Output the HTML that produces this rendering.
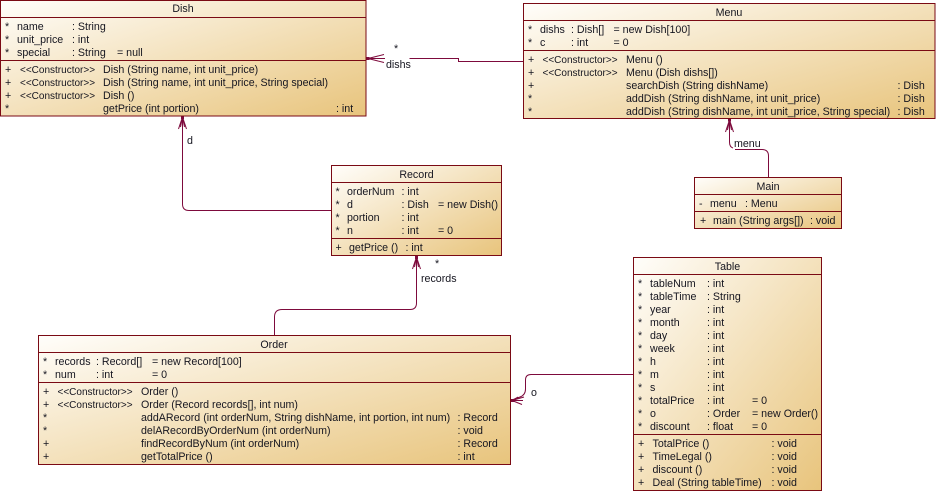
<!DOCTYPE html>
<html><head><meta charset="utf-8"><style>
html,body{margin:0;padding:0;background:#fff;width:936px;height:491px;overflow:hidden}
svg{display:block}
text{font-family:"Liberation Sans",sans-serif;font-size:10.67px;fill:#15151f}
text.k{font-size:10px}
.t{text-anchor:middle}
.b{fill:url(#g);stroke:#7a0a14;stroke-width:1}
.s{stroke:#7a0a14;stroke-width:1;fill:none}
.c{stroke:#7d0a3c;stroke-width:1;fill:none}
.h{stroke:#7d0a3c;stroke-width:1;fill:none}
.d{fill:#7d0a3c}
</style></head><body>
<svg width="936" height="491" viewBox="0 0 936 491" xmlns="http://www.w3.org/2000/svg">
<defs><linearGradient id="g" x1="0" y1="0" x2="1" y2="1"><stop offset="0" stop-color="#fffefb"/><stop offset="1" stop-color="#e8c47c"/></linearGradient></defs>

<!-- connectors -->
<path class="c" d="M523 61.500H458.500V58.500H409.500"/>
<path class="c" d="M385 58.500H368"/>
<path class="h" d="M368 58.500L384 54.500M368 58.500L384 62.500M368 58.500L378 56M368 58.500L378 61"/>
<rect class="d" x="366.500" y="57" width="3" height="3"/>

<path class="c" d="M729.500 120V142Q729.500 147 733 148"/>
<path class="c" d="M735 149.500H762Q768.500 149.500 768.500 156V177"/>
<path class="h" d="M729.500 120L725.500 132M729.500 120L733.500 132M729.500 120L727.500 130M729.500 120L731.500 130"/>
<rect class="d" x="728" y="118.500" width="3" height="3"/>

<path class="c" d="M182.500 117V204Q182.500 210.500 189 210.500H331"/>
<path class="h" d="M182.500 117L178.500 129M182.500 117L186.500 129M182.500 117L180.500 127M182.500 117L184.500 127"/>
<rect class="d" x="181" y="116" width="3" height="3"/>

<path class="c" d="M416.500 257V303Q416.500 309.500 410 309.500H282Q274.500 309.500 274.500 317V335"/>
<path class="h" d="M416.500 257L412.500 269M416.500 257L420.500 269M416.500 257L414.500 267M416.500 257L418.500 267"/>
<rect class="d" x="415" y="256" width="3" height="3"/>

<path class="c" d="M633 374.500H531Q525.500 374.500 525.500 380V389Q525.500 395 520 397L512 400"/>
<path class="h" d="M512 400.500H523M512 400.500L524 397M512 400.500L522 404.500M512 400.500L518 397"/>
<rect class="d" x="511" y="399" width="3" height="3"/>

<text x="394" y="52">*</text><text x="386" y="68">dishs</text>
<text x="734" y="147">menu</text>
<text x="187" y="144">d</text>
<text x="435" y="267">*</text><text x="421" y="282">records</text>
<text x="531" y="396">o</text>

<!-- Dish -->
<rect class="b" x="0.500" y="0.500" width="365.500" height="115.500"/>
<path class="s" d="M0 17.500H366M0 60.500H366"/>
<text class="t" x="183" y="12">Dish</text>
<text x="5" y="30">*</text><text x="17" y="30">name</text><text x="72" y="30">: String</text>
<text x="5" y="43">*</text><text x="17" y="43">unit_price</text><text x="72" y="43">: int</text>
<text x="5" y="56">*</text><text x="17" y="56">special</text><text x="72" y="56">: String</text><text x="117" y="56">= null</text>
<text x="5" y="73">+</text><text class="k" x="20" y="73">&lt;&lt;Constructor&gt;&gt;</text><text x="103" y="73">Dish (String name, int unit_price)</text>
<text x="5" y="86">+</text><text class="k" x="20" y="86">&lt;&lt;Constructor&gt;&gt;</text><text x="103" y="86">Dish (String name, int unit_price, String special)</text>
<text x="5" y="99">+</text><text class="k" x="20" y="99">&lt;&lt;Constructor&gt;&gt;</text><text x="103" y="99">Dish ()</text>
<text x="5" y="112">*</text><text x="103" y="112">getPrice (int portion)</text><text x="336" y="112">: int</text>

<!-- Menu -->
<rect class="b" x="523.500" y="3.500" width="411.500" height="115"/>
<path class="s" d="M523 20.500H935M523 50.500H935"/>
<text class="t" x="729" y="16">Menu</text>
<text x="528" y="33">*</text><text x="540" y="33">dishs</text><text x="571" y="33">: Dish[]</text><text x="613.500" y="33">= new Dish[100]</text>
<text x="528" y="46">*</text><text x="540" y="46">c</text><text x="571" y="46">: int</text><text x="613.500" y="46">= 0</text>
<text x="528" y="63">+</text><text class="k" x="542.500" y="63">&lt;&lt;Constructor&gt;&gt;</text><text x="626" y="63">Menu ()</text>
<text x="528" y="76">+</text><text class="k" x="542.500" y="76">&lt;&lt;Constructor&gt;&gt;</text><text x="626" y="76">Menu (Dish dishs[])</text>
<text x="528" y="89">+</text><text x="626" y="89">searchDish (String dishName)</text><text x="897.500" y="89">: Dish</text>
<text x="528" y="102">*</text><text x="626" y="102">addDish (String dishName, int unit_price)</text><text x="897.500" y="102">: Dish</text>
<text x="528" y="115">*</text><text x="626" y="115">addDish (String dishName, int unit_price, String special)</text><text x="897.500" y="115">: Dish</text>

<!-- Main -->
<rect class="b" x="694.500" y="177.500" width="147" height="51"/>
<path class="s" d="M694 194.500H842M694 211.500H842"/>
<text class="t" x="768" y="190">Main</text>
<text x="699" y="207">-</text><text x="710" y="207">menu</text><text x="745" y="207">: Menu</text>
<text x="700" y="224">+</text><text x="713" y="224">main (String args[])</text><text x="810" y="224">: void</text>

<!-- Record -->
<rect class="b" x="331.500" y="165.500" width="170" height="90"/>
<path class="s" d="M331 182.500H502M331 238.500H502"/>
<text class="t" x="416.500" y="178">Record</text>
<text x="335.500" y="195">*</text><text x="347" y="195">orderNum</text><text x="401.500" y="195">: int</text>
<text x="335.500" y="208">*</text><text x="347" y="208">d</text><text x="401.500" y="208">: Dish</text><text x="438" y="208">= new Dish()</text>
<text x="335.500" y="221">*</text><text x="347" y="221">portion</text><text x="401.500" y="221">: int</text>
<text x="335.500" y="234">*</text><text x="347" y="234">n</text><text x="401.500" y="234">: int</text><text x="438" y="234">= 0</text>
<text x="335.500" y="251">+</text><text x="349" y="251">getPrice ()</text><text x="405.500" y="251">: int</text>

<!-- Order -->
<rect class="b" x="38.500" y="335.500" width="472" height="129"/>
<path class="s" d="M38 352.500H511M38 382.500H511"/>
<text class="t" x="274" y="348">Order</text>
<text x="43" y="365">*</text><text x="55" y="365">records</text><text x="96" y="365">: Record[]</text><text x="152" y="365">= new Record[100]</text>
<text x="43" y="378">*</text><text x="55" y="378">num</text><text x="96" y="378">: int</text><text x="152" y="378">= 0</text>
<text x="43" y="395">+</text><text class="k" x="57.500" y="395">&lt;&lt;Constructor&gt;&gt;</text><text x="141" y="395">Order ()</text>
<text x="43" y="408">+</text><text class="k" x="57.500" y="408">&lt;&lt;Constructor&gt;&gt;</text><text x="141" y="408">Order (Record records[], int num)</text>
<text x="43" y="421">*</text><text x="141" y="421">addARecord (int orderNum, String dishName, int portion, int num)</text><text x="457.500" y="421">: Record</text>
<text x="43" y="434">*</text><text x="141" y="434">delARecordByOrderNum (int orderNum)</text><text x="457.500" y="434">: void</text>
<text x="43" y="447">+</text><text x="141" y="447">findRecordByNum (int orderNum)</text><text x="457.500" y="447">: Record</text>
<text x="43" y="460">+</text><text x="141" y="460">getTotalPrice ()</text><text x="457.500" y="460">: int</text>

<!-- Table -->
<rect class="b" x="633.500" y="257.500" width="188" height="233"/>
<path class="s" d="M633 274.500H822M633 434.500H822"/>
<text class="t" x="727.500" y="270">Table</text>
<text x="638" y="287">*</text><text x="650" y="287">tableNum</text><text x="707" y="287">: int</text>
<text x="638" y="300">*</text><text x="650" y="300">tableTime</text><text x="707" y="300">: String</text>
<text x="638" y="313">*</text><text x="650" y="313">year</text><text x="707" y="313">: int</text>
<text x="638" y="326">*</text><text x="650" y="326">month</text><text x="707" y="326">: int</text>
<text x="638" y="339">*</text><text x="650" y="339">day</text><text x="707" y="339">: int</text>
<text x="638" y="352">*</text><text x="650" y="352">week</text><text x="707" y="352">: int</text>
<text x="638" y="365">*</text><text x="650" y="365">h</text><text x="707" y="365">: int</text>
<text x="638" y="378">*</text><text x="650" y="378">m</text><text x="707" y="378">: int</text>
<text x="638" y="391">*</text><text x="650" y="391">s</text><text x="707" y="391">: int</text>
<text x="638" y="404">*</text><text x="650" y="404">totalPrice</text><text x="707" y="404">: int</text><text x="752" y="404">= 0</text>
<text x="638" y="417">*</text><text x="650" y="417">o</text><text x="707" y="417">: Order</text><text x="752" y="417">= new Order()</text>
<text x="638" y="430">*</text><text x="650" y="430">discount</text><text x="707" y="430">: float</text><text x="752" y="430">= 0</text>
<text x="638" y="447">+</text><text x="652.500" y="447">TotalPrice ()</text><text x="771.500" y="447">: void</text>
<text x="638" y="460">+</text><text x="652.500" y="460">TimeLegal ()</text><text x="771.500" y="460">: void</text>
<text x="638" y="473">+</text><text x="652.500" y="473">discount ()</text><text x="771.500" y="473">: void</text>
<text x="638" y="486">+</text><text x="652.500" y="486">Deal (String tableTime)</text><text x="771.500" y="486">: void</text>
</svg>
</body></html>
